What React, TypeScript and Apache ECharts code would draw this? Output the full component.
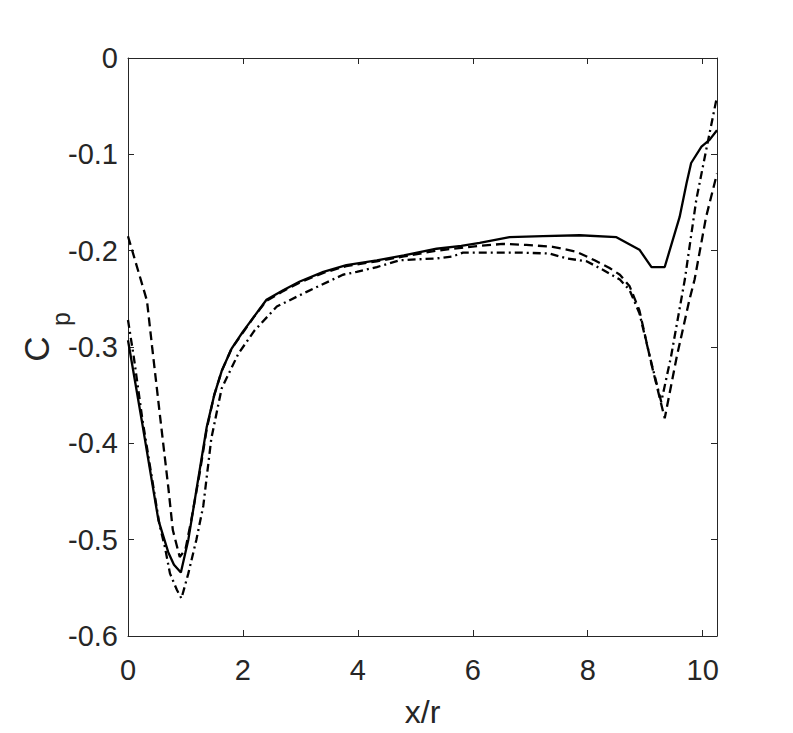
import React, { useEffect, useRef } from "react";
import * as echarts from "echarts";

const xTicks = [0, 2, 4, 6, 8, 10];
const yTicks = [-0.6, -0.5, -0.4, -0.3, -0.2, -0.1, 0];

const solidX = [0, 0.25, 0.53, 0.7, 0.8, 0.92, 1.05, 1.2, 1.37, 1.5, 1.63, 1.8, 2.0, 2.2, 2.41, 2.7, 2.99, 3.4, 3.8, 4.33, 4.8, 5.37, 5.8, 6.12, 6.64, 7.22, 7.86, 8.5, 8.9, 9.11, 9.34, 9.6, 9.72, 9.8, 9.98, 10.12, 10.25];
const solidY = [-0.293, -0.38, -0.48, -0.513, -0.526, -0.534, -0.5, -0.445, -0.383, -0.35, -0.325, -0.302, -0.284, -0.268, -0.251, -0.241, -0.232, -0.222, -0.215, -0.21, -0.205, -0.198, -0.195, -0.192, -0.186, -0.185, -0.184, -0.186, -0.199, -0.217, -0.217, -0.165, -0.13, -0.109, -0.092, -0.085, -0.075];

const dashedX = [0, 0.33, 0.42, 0.56, 0.7, 0.78, 0.9, 1.0, 1.1, 1.25, 1.37, 1.5, 1.63, 1.8, 2.0, 2.2, 2.41, 2.7, 2.99, 3.4, 3.8, 4.33, 4.8, 5.37, 5.8, 6.12, 6.52, 6.93, 7.39, 7.8, 8.12, 8.38, 8.56, 8.73, 8.9, 9.11, 9.34, 9.55, 9.77, 9.86, 10.06, 10.25];
const dashedY = [-0.185, -0.252, -0.3, -0.373, -0.445, -0.49, -0.518, -0.51, -0.48, -0.43, -0.385, -0.35, -0.325, -0.302, -0.285, -0.268, -0.252, -0.242, -0.233, -0.223, -0.216, -0.211, -0.206, -0.2, -0.197, -0.195, -0.193, -0.194, -0.196, -0.201, -0.21, -0.218, -0.225, -0.237, -0.262, -0.318, -0.374, -0.31, -0.251, -0.23, -0.165, -0.12];

const dashDotX = [0, 0.1, 0.25, 0.4, 0.55, 0.64, 0.73, 0.85, 0.93, 1.05, 1.19, 1.31, 1.45, 1.63, 1.92, 2.2, 2.59, 3.1, 3.74, 3.98, 4.33, 4.73, 5.37, 5.65, 5.83, 6.3, 6.82, 7.34, 7.63, 7.98, 8.27, 8.56, 8.73, 8.9, 9.11, 9.28, 9.45, 9.69, 9.89, 10.06, 10.25];
const dashDotY = [-0.272, -0.31, -0.375, -0.43, -0.485, -0.507, -0.535, -0.552, -0.561, -0.535, -0.5, -0.465, -0.395, -0.343, -0.307, -0.283, -0.258, -0.243, -0.225, -0.222, -0.217, -0.21, -0.208, -0.206, -0.202, -0.202, -0.202, -0.203, -0.208, -0.211, -0.22, -0.23, -0.241, -0.265, -0.317, -0.357, -0.31, -0.23, -0.147, -0.096, -0.04];

const zip = (xs: number[], ys: number[]) => xs.map((x, i) => [x, ys[i]]);

const FONT = "'Liberation Sans', Arial, sans-serif";
const TXT = "#262626";

export default function App() {
  const ref = useRef<HTMLDivElement>(null);
  useEffect(() => {
    if (!ref.current) return;
    const chart = echarts.init(ref.current, undefined, { renderer: "svg" });
    const axisCommon = {
      axisLine: { show: true, onZero: false, lineStyle: { color: TXT, width: 1 } },
      axisTick: { show: true, inside: true, length: 6, lineStyle: { color: TXT, width: 1 } },
      splitLine: { show: false },
    };
    const lineBase = { type: "line", showSymbol: false, symbol: "none", z: 3 };
    chart.setOption({
      animation: false,
      backgroundColor: "#ffffff",
      grid: { left: 128, right: 76, top: 58, bottom: 97 },
      xAxis: [
        {
          type: "value",
          position: "bottom",
          min: 0,
          max: 10.25,
          interval: 2,
          ...axisCommon,
          axisLabel: {
            show: true,
            showMaxLabel: false,
            margin: 19,
            fontSize: 29,
            color: TXT,
            fontFamily: FONT,
            formatter: (v: number) => (xTicks.includes(Math.round(v * 100) / 100) ? String(Math.round(v)) : ""),
          },
          name: "x/r",
          nameLocation: "middle",
          nameGap: 60,
          nameTextStyle: { fontSize: 32, color: TXT, fontFamily: FONT },
        },
        {
          type: "value",
          position: "top",
          min: 0,
          max: 10.25,
          interval: 2,
          ...axisCommon,
          axisLabel: { show: false },
        },
      ],
      yAxis: [
        {
          type: "value",
          position: "left",
          min: -0.6,
          max: 0,
          interval: 0.1,
          ...axisCommon,
          axisLabel: {
            show: true,
            margin: 10,
            fontSize: 29,
            color: TXT,
            fontFamily: FONT,
            formatter: (v: number) => {
              const r = Math.round(v * 10) / 10;
              const t = yTicks.find((k) => Math.abs(k - r) < 1e-9);
              if (t === undefined) return "";
              return Math.abs(t) < 1e-9 ? "0" : t.toFixed(1);
            },
          },
        },
        {
          type: "value",
          position: "right",
          min: -0.6,
          max: 0,
          interval: 0.1,
          ...axisCommon,
          axisLabel: { show: false },
        },
      ],
      graphic: [
        {
          type: "text",
          x: 36,
          y: 349,
          rotation: Math.PI / 2,
          style: { text: "C", font: `35px ${FONT}`, fill: TXT, align: "center", verticalAlign: "middle" },
        },
        {
          type: "text",
          x: 61,
          y: 319,
          rotation: Math.PI / 2,
          style: { text: "p", font: `25px ${FONT}`, fill: TXT, align: "center", verticalAlign: "middle" },
        },
      ],
      series: [
        { ...lineBase, name: "solid", data: zip(solidX, solidY), lineStyle: { color: "#000", width: 2.3, type: "solid" } },
        { ...lineBase, name: "dashed", data: zip(dashedX, dashedY), lineStyle: { color: "#000", width: 2.3, type: [9, 5] } },
        { ...lineBase, name: "dashdot", data: zip(dashDotX, dashDotY), lineStyle: { color: "#000", width: 2.3, type: [8, 4, 2, 4] } },
      ],
    });
    return () => chart.dispose();
  }, []);
  return <div ref={ref} style={{ position: "fixed", left: 0, top: 0, width: 793, height: 733 }} />;
}
